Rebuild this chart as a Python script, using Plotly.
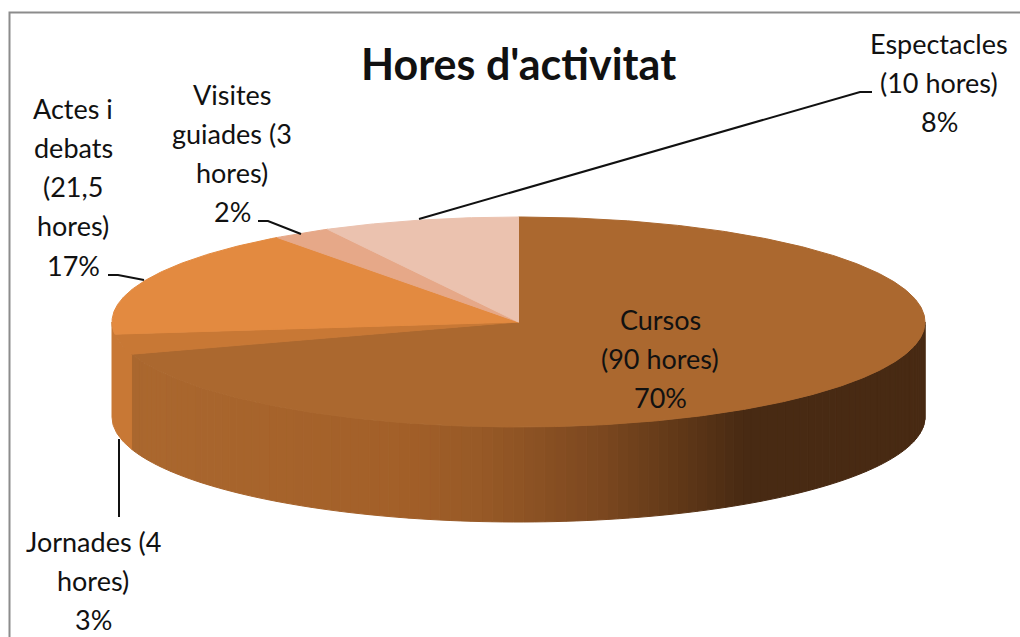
import numpy as np
import plotly.graph_objects as go

# ---- data ----
categories = ["Cursos", "Jornades", "Actes i debats", "Visites guiades", "Espectacles"]
hours = [90, 4, 21.5, 3, 10]
percent_labels = ["70%", "3%", "17%", "2%", "8%"]
label_lines = [
    ["Cursos", "(90 hores)", "70%"],
    ["Jornades (4", "hores)", "3%"],
    ["Actes i", "debats", "(21,5", "hores)", "17%"],
    ["Visites", "guiades (3", "hores)", "2%"],
    ["Espectacles", "(10 hores)", "8%"],
]
title_text = "Hores d'activitat"

# ---- styling / geometry ----
top_colors = ["#AB682F", "#C87835", "#E38A40", "#E6A888", "#EBC2AF"]
CX, CY, RX, RY, DEPTH = 518.5, 322, 406.5, 105, 95
FONT = "Lato, 'Open Sans', sans-serif"
label_cx = [660, 93, 73, 232, 939]
label_y0 = [319, 541, 108, 94, 43]
LINE_H = 39.3
leaders = [
    ([119, 119], [439, 517]),
    ([144, 118, 108], [280, 275, 275]),
    ([301, 268, 258], [234, 221, 221]),
    ([419, 860, 872], [219, 92, 92]),
]


def ell(t_deg, dy=0.0):
    t = np.radians(t_deg)
    return CX + RX * np.sin(t), CY - RY * np.cos(t) + dy


def poly(xs, ys, color):
    return go.Scatter(x=xs, y=ys, mode="lines", fill="toself", fillcolor=color,
                      line=dict(color=color, width=1), hoverinfo="skip", showlegend=False)


def hex_rgb(h):
    return np.array([int(h[i:i + 2], 16) for i in (1, 3, 5)], dtype=float)


def wall_color(x):
    stops_x = [130, 400, 480, 600, 680, 745, 925]
    stops_c = ["#AB682F", "#A36029", "#985A27", "#7C4820", "#603818", "#482A13", "#482A13"]
    rgb = [np.interp(x, stops_x, [hex_rgb(c)[k] for c in stops_c]) for k in range(3)]
    return "rgb(%d,%d,%d)" % tuple(rgb)


total = sum(hours)
edges = np.concatenate([[0], np.cumsum(hours) / total * 360])

fig = go.Figure()

# side wall of the first slice, shaded strip by strip
end_first = edges[1]
strip_edges = np.linspace(90, end_first, 110)
for a, b in zip(strip_edges[:-1], strip_edges[1:]):
    ts = np.linspace(a, b, 4)
    xt, yt = ell(ts)
    xb, yb = ell(ts[::-1], DEPTH)
    fig.add_trace(poly(np.r_[xt, xb, xt[0]], np.r_[yt, yb, yt[0]], wall_color(ell((a + b) / 2)[0])))

# side wall of the second slice, up to the left extreme of the ellipse
ts = np.linspace(end_first, 270, 20)
xt, yt = ell(ts)
xb, yb = ell(ts[::-1], DEPTH)
fig.add_trace(poly(np.r_[xt, xb, xt[0]], np.r_[yt, yb, yt[0]], top_colors[1]))

# top faces
for i in range(len(hours)):
    ts = np.linspace(edges[i], edges[i + 1], max(int(edges[i + 1] - edges[i]) * 2, 8))
    xs, ys = ell(ts)
    fig.add_trace(poly(np.r_[CX, xs, CX], np.r_[CY, ys, CY], top_colors[i]))

# leader lines
for lx, ly in leaders:
    fig.add_trace(go.Scatter(x=lx, y=ly, mode="lines", line=dict(color="#111111", width=2),
                             hoverinfo="skip", showlegend=False))

# frame
fig.add_trace(go.Scatter(x=[9.5, 9.5, 1020], y=[637, 12.5, 12.5], mode="lines",
                         line=dict(color="#8C8C8C", width=2), hoverinfo="skip", showlegend=False))

annotations = []
for lines, cx, y0 in zip(label_lines, label_cx, label_y0):
    for j, line in enumerate(lines):
        annotations.append(dict(x=cx, y=y0 + j * LINE_H, text=line, showarrow=False,
                                xanchor="center", yanchor="middle",
                                font=dict(family=FONT, size=27, color="#111111")))
annotations.append(dict(x=518, y=63, text="<b>%s</b>" % title_text, showarrow=False,
                        xanchor="center", yanchor="middle",
                        font=dict(family=FONT, size=43, color="#111111")))

fig.update_layout(
    width=1020, height=637, margin=dict(l=0, r=0, t=0, b=0),
    paper_bgcolor="white", plot_bgcolor="white", showlegend=False,
    xaxis=dict(range=[0, 1020], visible=False, fixedrange=True),
    yaxis=dict(range=[637, 0], visible=False, fixedrange=True),
    annotations=annotations,
)
fig.write_html("out.html", config={"displayModeBar": False},
               post_script="document.body.style.margin='0';document.body.style.overflow='hidden';")
